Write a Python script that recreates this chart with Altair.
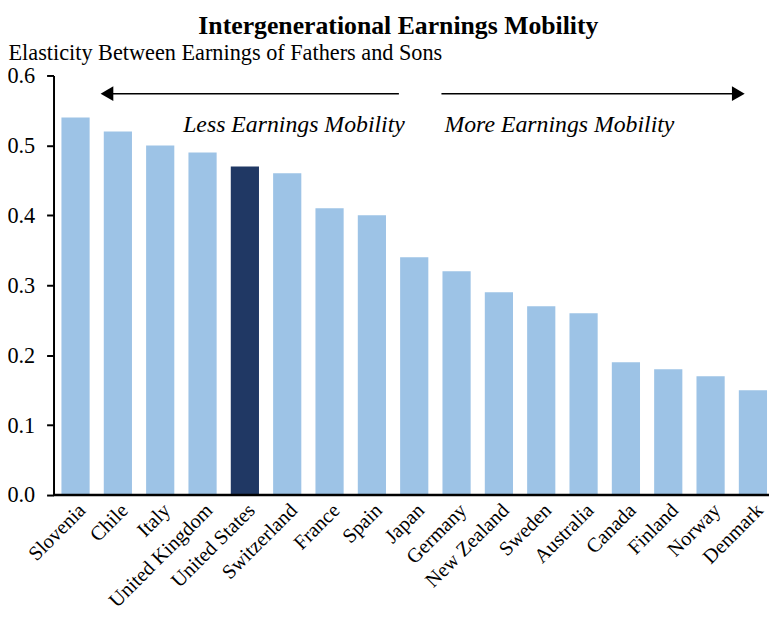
import altair as alt
import pandas as pd

countries = ["Slovenia", "Chile", "Italy", "United Kingdom", "United States",
             "Switzerland", "France", "Spain", "Japan", "Germany", "New Zealand",
             "Sweden", "Australia", "Canada", "Finland", "Norway", "Denmark"]
values = [0.54, 0.52, 0.50, 0.49, 0.47, 0.46, 0.41, 0.40, 0.34, 0.32, 0.29,
          0.27, 0.26, 0.19, 0.18, 0.17, 0.15]
highlight = "United States"

y_ticks = [0.0, 0.1, 0.2, 0.3, 0.4, 0.5, 0.6]
arrow_y = [0.574]
note_y = [0.529]
notes = ["Less Earnings Mobility", "More Earnings Mobility"]

df = pd.DataFrame({
    "country": countries,
    "value": values,
    "group": ["us" if c == highlight else "other" for c in countries],
})

FONT = "Liberation Serif"
W, H = 713, 424

bars = alt.Chart(df).mark_bar(strokeWidth=0).encode(
    x=alt.X("country:N", sort=countries,
            scale=alt.Scale(paddingInner=0.334, paddingOuter=0),
            axis=alt.Axis(title=None, labelAngle=-45, labelFontSize=20.5,
                          labelFont=FONT, labelColor="black", ticks=False,
                          domain=False, labelPadding=5, labelOffset=0)),
    y=alt.Y("value:Q", scale=alt.Scale(domain=[0, 0.6]),
            axis=alt.Axis(values=y_ticks, format=".1f",
                          title="Elasticity Between Earnings of Fathers and Sons",
                          titleAngle=0, titleAlign="left", titleBaseline="middle",
                          titleX=-46, titleY=-23, titleFont=FONT,
                          titleFontWeight="normal", titleFontSize=22.5,
                          titleColor="black", offset=8, grid=False,
                          domainColor="black", domainWidth=2, tickColor="black",
                          tickWidth=2, tickSize=7, labelFontSize=22.5,
                          labelFont=FONT, labelColor="black", labelPadding=12)),
    color=alt.Color("group:N",
                    scale=alt.Scale(domain=["other", "us"],
                                    range=["#9DC3E6", "#203864"]),
                    legend=None),
)

base_df = pd.DataFrame({"y": [0.0]})
baseline = alt.Chart(base_df).mark_rule(color="black", strokeWidth=2.5).encode(
    y="y:Q", x=alt.value(-8), x2=alt.value(W + 2))

adf = pd.DataFrame({"y": arrow_y})
left_line = alt.Chart(adf).mark_rule(color="black", strokeWidth=1.5).encode(
    y="y:Q", x=alt.value(50), x2=alt.value(341))
right_line = alt.Chart(adf).mark_rule(color="black", strokeWidth=1.5).encode(
    y="y:Q", x=alt.value(384), x2=alt.value(682))
left_head = alt.Chart(adf).mark_point(shape="triangle-left", filled=True,
                                      color="black", size=220, opacity=1).encode(
    y="y:Q", x=alt.value(46))
right_head = alt.Chart(adf).mark_point(shape="triangle-right", filled=True,
                                       color="black", size=220, opacity=1).encode(
    y="y:Q", x=alt.value(684))

ndf = pd.DataFrame({"y": note_y, "t1": [notes[0]], "t2": [notes[1]]})
less_txt = alt.Chart(ndf).mark_text(font=FONT, fontStyle="italic", fontSize=24,
                                    align="right", baseline="middle",
                                    color="black").encode(
    y="y:Q", x=alt.value(347), text="t1:N")
more_txt = alt.Chart(ndf).mark_text(font=FONT, fontStyle="italic", fontSize=24,
                                    align="left", baseline="middle",
                                    color="black").encode(
    y="y:Q", x=alt.value(387), text="t2:N")

chart = alt.layer(bars, baseline, left_line, right_line, left_head, right_head,
                  less_txt, more_txt).properties(
    width=W, height=H,
    autosize=alt.AutoSizeParams(type="none"),
    padding={"left": 54, "top": 65, "right": 2, "bottom": 115},
    title=alt.Title("Intergenerational Earnings Mobility", font=FONT,
                    fontSize=26, fontWeight="bold", anchor="middle",
                    color="black", dx=-16, offset=3),
).configure_view(stroke=None)

chart.save("out.html", embed_options={"renderer": "svg", "actions": False})
